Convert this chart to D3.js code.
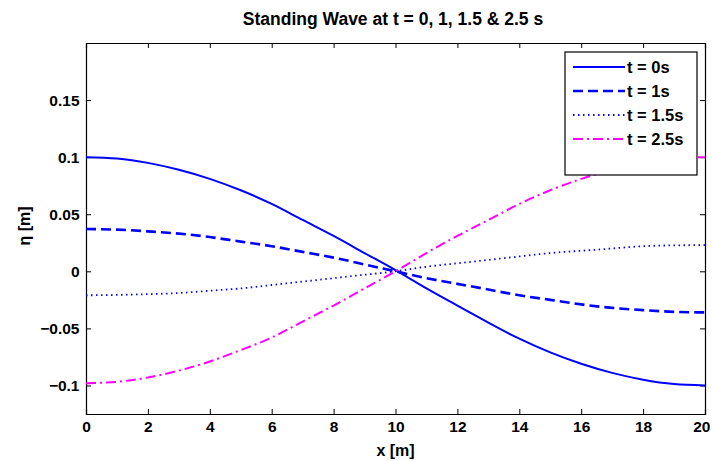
<!DOCTYPE html>
<html>
<head>
<meta charset="utf-8">
<script src="https://cdn.jsdelivr.net/npm/d3@7"></script>
<style>
  body { margin: 0; background: #fff; }
  svg { display: block; font-family: "Liberation Sans", Arial, sans-serif; font-weight: bold; }
</style>
</head>
<body>
<div id="chart"></div>
<script>
// x positions along the tank (m)
const xValues = [0, 1, 2, 3, 4, 5, 6, 7, 8, 9, 10, 11, 12, 13, 14, 15, 16, 17, 18, 19, 20];

// surface elevation (m)
const eta0 = [0.100, 0.0988, 0.095, 0.089, 0.081, 0.071, 0.059, 0.045, 0.031, 0.016, 0.001,
              -0.015, -0.030, -0.045, -0.059, -0.071, -0.081, -0.089, -0.095, -0.0988, -0.100];
const eta1 = [0.037, 0.0365, 0.035, 0.033, 0.030, 0.026, 0.022, 0.017, 0.012, 0.006, 0.000,
              -0.006, -0.011, -0.016, -0.021, -0.025, -0.029, -0.032, -0.034, -0.0355, -0.036];
const eta15 = [-0.021, -0.0207, -0.020, -0.019, -0.017, -0.015, -0.012, -0.009, -0.006, -0.003, 0.000,
               0.004, 0.007, 0.010, 0.013, 0.016, 0.018, 0.020, 0.022, 0.0227, 0.023];
const eta25 = [-0.098, -0.0968, -0.093, -0.087, -0.079, -0.069, -0.058, -0.044, -0.030, -0.015, 0.000,
               0.016, 0.031, 0.045, 0.059, 0.071, 0.081, 0.089, 0.095, 0.0988, 0.100];

const seriesNames = ["t = 0s", "t = 1s", "t = 1.5s", "t = 2.5s"];
const xTicks = [0, 2, 4, 6, 8, 10, 12, 14, 16, 18, 20];
const yTicks = [-0.1, -0.05, 0, 0.05, 0.1, 0.15];

const series = [
  { name: seriesNames[0], values: eta0,  color: "#0000ff", width: 2,   dash: null },
  { name: seriesNames[1], values: eta1,  color: "#0000ff", width: 2.6, dash: "10,5" },
  { name: seriesNames[2], values: eta15, color: "#0000ff", width: 1.8, dash: "1.5,3.5" },
  { name: seriesNames[3], values: eta25, color: "#ff00ff", width: 2,   dash: "10,4,2,4" }
];

const width = 712, height = 461;
const margin = { top: 43, right: 7, bottom: 47, left: 86 };
const font = "'Liberation Sans', Arial, sans-serif";

const svg = d3.select("#chart").append("svg")
    .attr("width", width)
    .attr("height", height);

const x = d3.scaleLinear().domain([0, 20]).range([margin.left, width - margin.right]);
const y = d3.scaleLinear().domain([-0.125, 0.2]).range([height - margin.bottom, margin.top]);

const tickFmt = d => d === 0 ? "0" : d3.format("")(+d.toFixed(2));

// axes (ticks pointing inward, mirrored on top/right)
const gx = svg.append("g")
    .attr("transform", `translate(0,${y.range()[0]})`)
    .call(d3.axisBottom(x).tickValues(xTicks).tickSize(-5).tickPadding(7).tickFormat(tickFmt));
const gxt = svg.append("g")
    .attr("transform", `translate(0,${y.range()[1]})`)
    .call(d3.axisTop(x).tickValues(xTicks).tickSize(-5).tickFormat(""));
const gy = svg.append("g")
    .attr("transform", `translate(${x.range()[0]},0)`)
    .call(d3.axisLeft(y).tickValues(yTicks).tickSize(-5).tickPadding(6.5).tickFormat(tickFmt));
const gyr = svg.append("g")
    .attr("transform", `translate(${x.range()[1]},0)`)
    .call(d3.axisRight(y).tickValues(yTicks).tickSize(-5).tickFormat(""));

[gx, gxt, gy, gyr].forEach(g => {
  g.select(".domain").attr("stroke", "#000").attr("stroke-width", 1.2);
  g.selectAll(".tick line").attr("stroke", "#000");
  g.selectAll("text").attr("font-size", 15.5).attr("font-weight", "bold")
    .attr("font-family", font).attr("fill", "#000");
});
// last x label sits against the window edge
gx.selectAll(".tick text").filter(d => d === 20).attr("text-anchor", "end").attr("dx", 5);

// curves
const line = d3.line()
    .x((d, i) => x(xValues[i]))
    .y(d => y(d))
    .curve(d3.curveNatural);

svg.append("g")
  .selectAll("path")
  .data(series)
  .join("path")
    .attr("fill", "none")
    .attr("stroke", d => d.color)
    .attr("stroke-width", d => d.width)
    .attr("stroke-dasharray", d => d.dash)
    .attr("d", d => line(d.values));

// title & labels
svg.append("text")
    .attr("x", 393)
    .attr("y", 24.5)
    .attr("text-anchor", "middle")
    .attr("font-size", 17.5)
    .text("Standing Wave at t = 0, 1, 1.5 & 2.5 s");

svg.append("text")
    .attr("x", (x.range()[0] + x.range()[1]) / 2)
    .attr("y", 456)
    .attr("text-anchor", "middle")
    .attr("font-size", 16)
    .text("x [m]");

svg.append("text")
    .attr("transform", `translate(30,226) rotate(-90)`)
    .attr("text-anchor", "middle")
    .attr("font-size", 16)
    .text("η [m]");

// legend
const legend = svg.append("g").attr("transform", "translate(565,52)");
legend.append("rect")
    .attr("width", 132).attr("height", 123)
    .attr("fill", "#fff").attr("stroke", "#000").attr("stroke-width", 1.2);

const item = legend.selectAll("g.item")
  .data(series)
  .join("g")
    .attr("class", "item")
    .attr("transform", (d, i) => `translate(0,${15 + i * 24})`);

item.append("line")
    .attr("x1", 8).attr("x2", 60)
    .attr("stroke", d => d.color)
    .attr("stroke-width", d => d.width)
    .attr("stroke-dasharray", d => d.dash);

item.append("text")
    .attr("x", 62)
    .attr("dy", "0.35em")
    .attr("font-size", 16.5)
    .text(d => d.name);
</script>
</body>
</html>
